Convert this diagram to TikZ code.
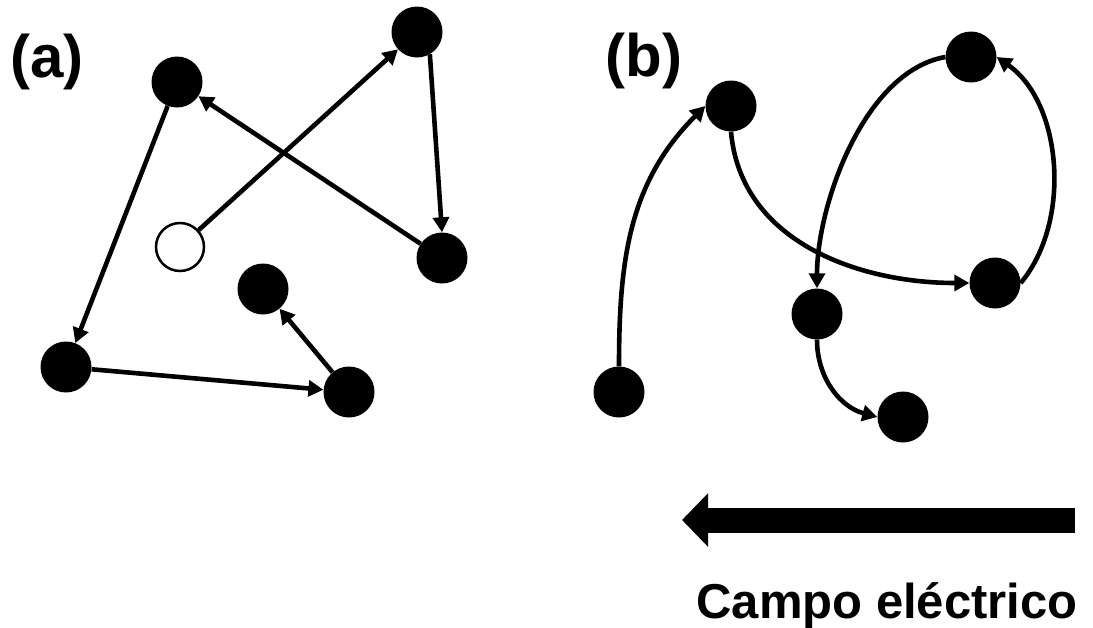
\documentclass[tikz,border=0pt]{standalone}
\usepackage{fontspec}
\setmainfont{Liberation Sans}
\usetikzlibrary{arrows.meta}
\begin{document}
\begin{tikzpicture}[x=1pt,y=1pt,
  dot/.style={circle,fill=black,minimum size=51pt,inner sep=0pt},
  hole/.style={circle,draw=black,fill=white,line width=2.5pt,minimum size=48pt,inner sep=0pt},
  hop/.style={line width=4.6pt,-{Triangle[length=15pt,width=16pt]}},
  field/.style={line width=25pt,-{Triangle[length=26pt,width=52pt]}},
  lab/.style={font=\bfseries\fontsize{60}{66}\selectfont,anchor=base,inner sep=0pt}]
\useasboundingbox (0,0) rectangle (1093,-627);
% panel (a)
\node[lab] (la) at (47,-77) {(a)};
\node[dot] (a1) at (177,-82) {};
\node[dot] (a2) at (417,-32) {};
\node[hole] (a0) at (180,-247) {};
\node[dot] (a3) at (442,-258) {};
\node[dot] (a4) at (263,-289) {};
\node[dot] (a5) at (66,-367) {};
\node[dot] (a6) at (349,-392) {};
\draw[hop] (a0) -- (a2);
\draw[hop] (a2.-60) -- (a3.north);
\draw[hop] (a3) -- (a1);
\draw[hop] (a1) -- (a5);
\draw[hop] (a5) -- (a6);
\draw[hop] (a6) -- (a4);
% panel (b)
\node[lab] (lb) at (644,-76) {(b)};
\node[dot] (b1) at (619,-392) {};
\node[dot] (b2) at (731,-106) {};
\node[dot] (b3) at (971,-57) {};
\node[dot] (b4) at (995,-283) {};
\node[dot] (b5) at (817,-314) {};
\node[dot] (b6) at (903,-417) {};
\draw[hop] (b1.north) to[out=90,in=225] (b2.west);
\draw[hop] (b2.south) to[out=-85,in=180] (b4.west);
\draw[hop] (b4.east) to[out=50,in=-35,looseness=0.9] (b3.east);
\draw[hop] (b3.west) to[out=190,in=90,looseness=0.8] (b5.north);
\draw[hop] (b5.south) to[out=-90,in=165] (b6.west);
% field arrow
\coordinate (fs) at (1075,-520);
\coordinate (fe) at (682,-520);
\draw[field] (fs) -- (fe);
\node[font=\bfseries\fontsize{49}{55}\selectfont,anchor=base,inner sep=0pt] (ft) at (887,-618) {Campo eléctrico};
\end{tikzpicture}
\end{document}
